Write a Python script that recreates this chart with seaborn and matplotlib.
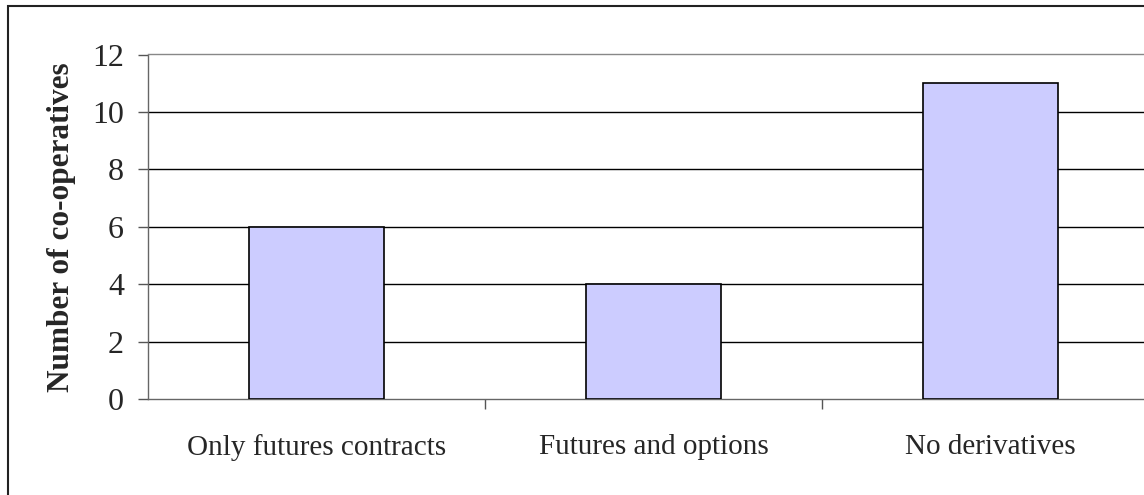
import matplotlib
matplotlib.use("Agg")
import matplotlib.pyplot as plt
import seaborn as sns
import pandas as pd
from matplotlib.patches import Rectangle

categories = ["Only futures contracts", "Futures and options", "No derivatives"]
values = [6, 4, 11]
yticks = [0, 2, 4, 6, 8, 10, 12]

sns.set_theme(style="white")
plt.rcParams['font.family'] = ['Liberation Serif', 'DejaVu Serif']

W, H = 1144, 495
fig = plt.figure(figsize=(W/100, H/100), dpi=100)
# outer chart border
fig.patches.append(Rectangle((8/W, 1 - 6/H - (H + 20)/H), (W + 20)/W, (H + 20)/H,
                             transform=fig.transFigure, fill=False,
                             edgecolor="#222222", linewidth=1.5))

left, right, top, bottom = 148, 1159, 54.5, 399
ax = fig.add_axes([left/W, 1 - bottom/H, (right-left)/W, (bottom-top)/H])

df = pd.DataFrame({"cat": categories, "val": values})
sns.barplot(data=df, x="cat", y="val", ax=ax, color="#CCCCFF", saturation=1,
            width=0.4, edgecolor="black", linewidth=1.2, zorder=3)

ax.set_ylim(0, 12)
ax.set_xlim(-0.5, 2.5)
ax.set_yticks(yticks)
ax.set_yticklabels([str(v) for v in yticks], fontsize=23)
ax.set_xticks([0, 1, 2])
ax.set_xticklabels(categories, fontsize=21)
ax.tick_params(axis="x", length=0, pad=25)
ax.tick_params(axis="y", length=7.2, width=1, color="#555555", pad=10, left=True)
ax.set_xticks([0.5, 1.5], minor=True)
ax.tick_params(axis="x", which="minor", length=7.2, width=1, color="#555555", bottom=True, direction="out")
ax.set_xlabel("")
ax.set_ylabel("Number of co-operatives", fontsize=22.5, fontweight="bold", labelpad=12)

for y in yticks[1:-1]:
    ax.axhline(y, color="black", linewidth=1, zorder=1)
ax.spines["right"].set_visible(False)
ax.spines["top"].set_color("#888888")
ax.spines["top"].set_linewidth(1)
ax.spines["left"].set_color("#666666")
ax.spines["left"].set_linewidth(1)
ax.spines["bottom"].set_color("#666666")
ax.spines["bottom"].set_linewidth(1)
ax.grid(False)

fig.savefig("out.png", dpi=100)
